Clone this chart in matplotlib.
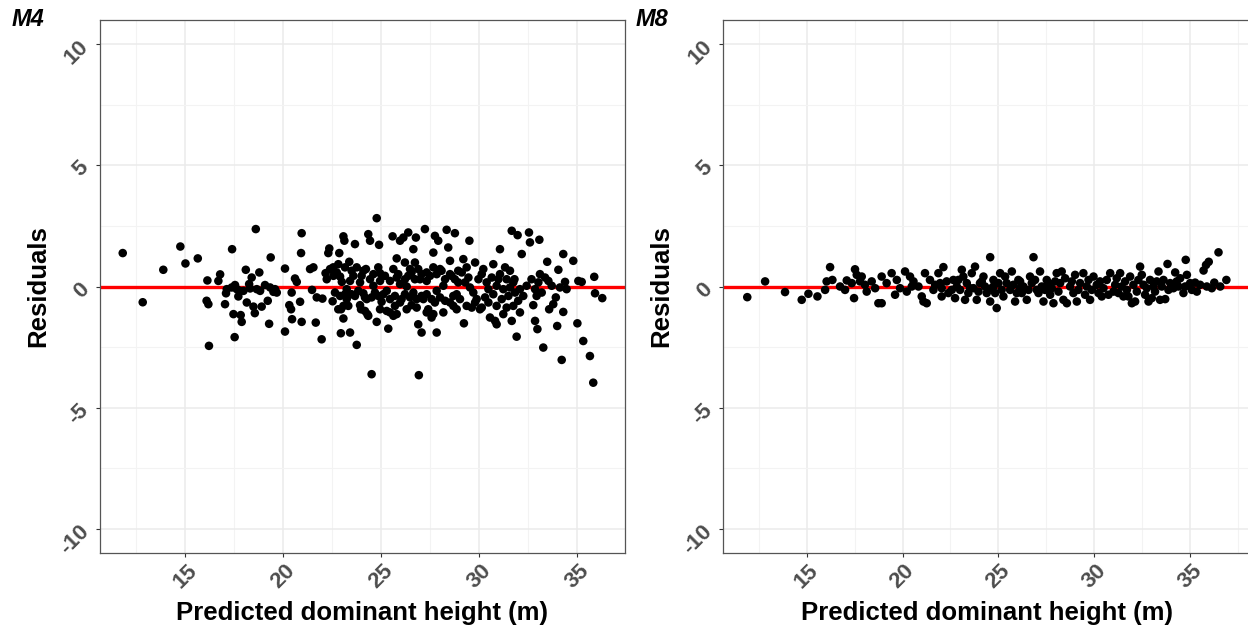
import numpy as np
import matplotlib.pyplot as plt
from matplotlib.ticker import MultipleLocator

plt.rcParams['font.family'] = ['Liberation Sans', 'DejaVu Sans']
plt.rcParams['axes.unicode_minus'] = False

# ---- M4 residuals ----
m4_x = [11.82, 12.84, 13.89, 14.76, 15.02, 15.65, 16.14, 16.10, 16.19, 16.22,
        16.70, 16.79, 17.04, 17.09, 17.40, 17.47, 17.53, 17.55, 17.64, 17.72,
        17.84, 17.89, 17.98, 18.10, 18.15, 18.27, 18.40, 18.49, 18.56, 18.61,
        18.66, 18.79, 18.91, 19.22, 19.29, 19.37, 19.34, 19.51, 19.68,
        17.13, 17.38, 17.81, 18.32, 18.83, 19.08, 19.59,
        20.10, 20.10, 20.61, 20.70, 20.44, 20.32, 20.41, 20.46, 20.95, 20.92,
        20.87, 20.95, 21.38, 21.55, 21.48, 21.72, 21.67, 22.01, 21.97, 22.17,
        22.23, 22.36, 22.31, 22.53, 22.56, 22.74, 22.87, 22.91, 23.00, 22.96,
        23.08, 23.13, 22.95, 23.08, 23.16, 23.25, 23.38, 23.33, 23.42, 23.50,
        23.59, 23.67, 23.67, 23.76, 23.93, 23.98, 24.10, 24.18, 24.35, 24.44,
        24.30, 24.35, 24.52, 24.61, 24.69, 24.78, 24.78, 24.90, 24.86, 24.95,
        25.03, 25.29, 25.37, 25.46, 25.59, 25.63, 25.80, 25.88, 25.97, 26.05,
        26.14, 26.22, 26.31, 26.39, 26.48, 26.56, 26.65, 26.73, 26.78, 26.90,
        26.93, 26.99, 27.07, 27.16, 27.24, 27.33, 27.41, 27.58, 27.67, 27.75,
        27.84, 27.92, 27.84, 28.01, 28.18, 28.35, 28.43, 28.52, 28.60, 28.77,
        28.69, 28.86, 28.94,
        22.40, 22.57, 22.82, 23.16, 23.42, 23.76, 24.01, 24.23, 24.44, 24.61,
        24.95, 25.20, 25.46, 25.63, 25.80, 25.97, 26.22, 26.39, 26.56, 26.73,
        26.90, 27.07, 27.33, 27.50, 27.67, 27.84, 28.09, 28.27, 28.52, 28.77,
        28.94,
        22.65, 22.91, 23.25, 23.50, 23.84, 24.10, 24.27, 24.52, 24.86, 25.12,
        25.46, 25.71, 25.97, 26.22, 26.48, 26.65, 26.82, 27.07, 27.33, 27.58,
        27.75, 28.01, 28.27, 28.52, 28.69, 28.86,
        22.82, 23.08, 23.93, 24.18, 24.95, 25.29, 25.71, 25.80, 26.31, 26.82,
        27.33, 27.67, 28.18,
        29.51, 29.20, 29.23, 29.37, 29.80, 29.71, 29.88, 29.63, 30.05, 30.22,
        30.31, 30.56, 30.73, 30.82, 30.90, 31.07, 30.99, 31.16, 31.24, 31.33,
        31.58, 31.50, 31.67, 31.67, 31.81, 31.92, 31.97, 32.00, 32.09, 32.18,
        32.09, 32.55, 32.60, 32.68, 32.77, 32.86, 32.98, 33.08, 33.11, 33.28,
        33.48, 33.54, 33.58, 33.79, 33.92, 33.99, 34.05, 34.22, 34.30, 34.30,
        34.47, 34.81, 35.02, 35.07, 35.24, 35.32, 35.66, 35.83, 35.88, 35.92,
        36.29,
        29.12, 29.29, 29.46, 29.54, 29.97, 30.14, 30.39, 30.48, 30.65, 30.73,
        30.90, 31.07, 31.24, 31.41, 31.58, 31.75, 31.84, 32.43, 32.86, 33.03,
        33.37, 33.20, 33.71, 34.13, 34.39, 29.03, 29.37, 29.80, 30.14, 30.48,
        30.90, 31.41, 31.75, 32.26, 32.94]
m4_y = [1.38, -0.65, 0.69, 1.65, 0.95, 1.16, 0.25, -0.59, -0.73, -2.45,
        0.23, 0.50, -0.73, -0.28, 1.54, -1.14, -2.09, 0.06, -0.11, -0.41,
        -1.18, -1.46, -0.18, 0.69, -0.66, 0.10, 0.37, -0.83, -1.10, 2.37,
        -0.11, 0.58, -0.83, -0.59, -1.54, 1.20, -0.04, -0.22, -0.25,
        -0.11, -0.04, -0.18, -0.08, -0.18, 0.06, -0.11,
        0.74, -1.86, 0.33, 0.19, -0.25, -0.77, -0.94, -1.35, 2.20, 1.38,
        -0.63, -1.46, 0.72, 0.79, -0.14, -0.45, -1.49, -0.50, -2.18, 0.55,
        0.30, 1.57, 1.38, -0.61, 0.79, 0.58, 1.38, 0.41, 0.19, -0.94,
        2.07, 1.89, -1.93, -1.32, -0.32, -0.11, 1.02, -0.80, -1.90, 0.65,
        0.44, 1.75, -0.39, -2.41, 0.17, -0.94, 0.65, -0.45, 2.16, 1.89,
        -1.14, -1.21, -3.62, 0.51, -0.25, 2.82, -1.46, 1.72, 0.79, 0.23,
        -0.63, -0.18, -1.74, -1.07, 2.07, -1.21, 1.16, 0.51, 1.89, -0.52,
        2.02, 0.99, 0.00, 2.23, 0.72, -0.77, 1.54, 0.99, 2.02, -1.56,
        -3.66, 0.30, -1.90, -0.52, 2.37, 0.58, -0.94, -1.28, 1.40, 2.09,
        -1.90, 1.89, -0.18, 0.72, 0.03, 2.34, 1.61, 1.06, 0.44, 2.20,
        -0.39, -0.94, 0.17,
        0.72, 0.44, 0.92, 0.79, 0.23, 0.79, 0.44, 0.72, 0.30, 0.03,
        0.55, 0.44, 0.23, 0.72, 0.37, 0.10, 0.30, 0.44, 0.58, 0.30,
        0.72, 0.51, 0.23, 0.44, 0.79, 0.51, 0.65, 0.30, 0.51, 0.30,
        0.65,
        -0.25, -0.39, -0.52, -0.32, -0.18, -0.28, -0.52, -0.45, -0.39, -0.32,
        -0.52, -0.39, -0.66, -0.32, -0.45, -0.25, -0.52, -0.39, -0.32, -0.52,
        -0.66, -0.45, -0.59, -0.66, -0.80, -0.32,
        -0.94, -0.80, -0.77, -1.01, -0.94, -1.01, -0.80, -1.14, -0.94, -0.87,
        -1.07, -1.14, -1.07,
        1.89, 1.13, -1.52, 0.79, 0.99, -0.25, -0.52, -0.87, -0.94, 0.72,
        -0.45, -1.28, 0.92, -1.42, -1.56, 1.54, 0.30, -0.52, -1.14, 0.79,
        0.65, -0.39, 2.30, -1.42, 0.30, -2.07, 2.12, -0.59, -1.07, 1.34,
        -0.11, 2.23, 1.82, 0.30, -0.77, -1.42, -1.76, 1.93, 0.51, -2.52,
        1.02, 0.23, -0.94, -0.73, -0.45, -1.63, 0.69, -3.03, 1.34, -1.05,
        -0.11, 1.06, -1.52, 0.23, 0.19, -2.25, -2.87, -3.97, 0.40, -0.28,
        -0.48,
        0.58, 0.17, 0.37, -0.04, 0.30, 0.51, 0.17, -0.11, 0.37, -0.32,
        0.03, 0.51, -0.11, 0.30, -0.04, 0.17, -0.25, 0.03, -0.11, 0.17,
        0.37, -0.25, 0.03, -0.04, 0.19, -0.52, -0.80, -0.66, -0.87, -0.66,
        -0.80, -0.87, -0.80, -0.39, -0.39]

# ---- M8 residuals ----
m8_x = [11.90, 12.83, 13.87, 14.74, 15.09, 15.56, 15.96, 16.04, 16.22, 16.34,
        16.74, 17.00, 17.09, 17.47, 17.52, 17.61, 17.78, 18.04, 18.13, 18.39,
        18.74, 18.57, 17.87, 17.35,
        18.91, 18.91, 19.43, 19.61, 20.13, 20.22, 20.39, 20.57, 20.83, 21.00,
        21.09, 21.17, 21.26, 21.70, 21.87, 22.04, 22.13, 22.30, 22.57, 22.74,
        22.91, 23.09, 23.17, 23.26, 23.43, 23.61, 23.78, 23.87, 24.04, 24.22,
        24.39, 24.57, 24.57, 24.74, 24.91, 25.09, 25.26, 25.43, 25.70, 25.87,
        26.04, 26.22, 26.48, 26.65, 26.83, 27.00, 27.17, 27.35, 27.52, 27.70,
        27.87, 28.04,
        19.17, 19.70, 19.87, 20.48, 21.43, 21.61, 21.96, 22.39, 22.65, 23.00,
        23.35, 23.52, 23.96, 24.13, 24.30, 24.65, 24.83, 25.00, 25.17, 25.35,
        25.61, 25.78, 25.96, 26.13, 26.30, 26.57, 26.74, 26.91, 27.09, 27.26,
        27.43, 27.61, 27.78, 27.96, 28.13, 22.04, 22.83, 23.70, 24.74, 26.13,
        27.52,
        28.30, 28.39, 28.57, 29.00, 29.09, 29.43, 29.78, 29.96, 30.30, 30.83,
        31.00, 31.35, 31.52, 31.96, 32.13, 32.39, 32.48, 32.65, 32.83, 33.00,
        33.35, 33.43, 33.70, 33.82, 34.22, 34.30, 34.65, 34.77, 34.83, 35.35,
        35.26, 35.70, 35.83, 35.97, 36.26, 36.48, 36.57, 36.89,
        28.22, 28.48, 28.74, 28.83, 29.17, 29.26, 29.61, 29.70, 29.87, 30.13,
        30.22, 30.48, 30.65, 30.74, 31.09, 31.17, 31.43, 31.61, 31.70, 31.87,
        32.04, 32.22, 32.30, 32.57, 32.74, 32.91, 33.09, 33.17, 33.26, 33.52,
        33.61, 33.87, 33.96, 34.13, 34.39, 34.48, 34.74, 35.00, 35.09, 35.52,
        35.87, 36.13, 28.91, 29.52, 30.39, 31.26, 31.78]
m8_y = [-0.44, 0.21, -0.23, -0.55, -0.30, -0.41, -0.14, 0.21, 0.80, 0.27,
        0.00, -0.14, 0.25, -0.48, 0.71, 0.48, 0.21, 0.07, -0.21, 0.21,
        -0.69, -0.07, 0.41, 0.14,
        0.41, -0.69, 0.55, -0.34, 0.62, -0.21, 0.41, 0.21, 0.00, -0.41,
        -0.62, 0.55, -0.69, 0.07, 0.55, -0.41, 0.80, 0.21, -0.14, -0.48,
        0.27, 0.69, 0.41, -0.55, -0.27, 0.55, 0.82, -0.55, 0.14, 0.41,
        -0.27, 1.21, -0.62, 0.27, -0.89, 0.55, -0.41, 0.14, 0.62, -0.62,
        0.27, -0.27, -0.55, 0.41, 1.21, -0.14, 0.62, -0.62, 0.27, -0.34,
        -0.69, 0.55,
        0.14, 0.27, -0.07, 0.00, 0.27, -0.14, 0.14, -0.27, 0.27, -0.14,
        0.14, -0.07, -0.21, 0.21, 0.00, -0.07, -0.27, 0.14, -0.14, 0.41,
        -0.14, 0.07, -0.27, 0.21, 0.00, -0.14, 0.14, 0.27, -0.27, 0.00,
        -0.14, 0.14, -0.07, 0.21, -0.21, -0.07, 0.00, -0.07, 0.00, -0.07,
        0.00,
        0.62, -0.55, -0.69, 0.48, -0.62, 0.55, -0.55, 0.41, 0.21, 0.55,
        -0.21, 0.55, -0.41, -0.69, -0.62, 0.82, 0.48, -0.34, -0.62, -0.48,
        0.62, -0.55, -0.52, 0.93, 0.58, 0.21, -0.27, 1.10, 0.48, -0.21,
        0.16, 0.66, 0.89, 1.02, 0.16, 1.41, 0.00, 0.27,
        0.14, 0.34, 0.00, 0.21, -0.14, 0.14, 0.00, 0.27, -0.14, 0.07,
        -0.27, -0.07, 0.27, -0.34, 0.07, 0.34, 0.00, 0.21, -0.14, 0.41,
        0.07, -0.21, 0.27, 0.07, -0.07, 0.27, 0.00, -0.21, 0.21, 0.00,
        0.27, -0.14, 0.14, -0.07, 0.00, 0.34, 0.00, 0.14, -0.14, 0.07,
        0.00, -0.07, -0.27, -0.34, -0.41, -0.27, -0.41]

panels = [("M4", m4_x, m4_y, (10.66, 37.45)),
          ("M8", m8_x, m8_y, (10.65, 38.18))]

W, H = 1248, 630
fig = plt.figure(figsize=(W / 100, H / 100), dpi=100)
boxes = [(100, 20, 525, 533), (723.3, 20, 527.8, 533)]
tick_col = '#4d4d4d'

for (name, xs, ys, xl), (bx, by, bw, bh) in zip(panels, boxes):
    ax = fig.add_axes([bx / W, 1 - (by + bh) / H, bw / W, bh / H])
    ax.set_xlim(xl)
    ax.set_ylim(-11, 11)
    ax.xaxis.set_major_locator(MultipleLocator(5))
    ax.xaxis.set_minor_locator(MultipleLocator(2.5))
    ax.yaxis.set_major_locator(MultipleLocator(5))
    ax.yaxis.set_minor_locator(MultipleLocator(2.5))
    ax.grid(True, which='major', color='#ebebeb', lw=1.1, zorder=0)
    ax.grid(True, which='minor', color='#f3f3f3', lw=0.8, zorder=0)
    ax.set_axisbelow(True)
    ax.axhline(0, color='#ff0000', lw=2.4, zorder=2)
    ax.scatter(xs, ys, s=38, color='black', edgecolors='none', zorder=3)
    ax.tick_params(which='minor', length=0)
    ax.tick_params(which='major', length=3, width=0.8, color='#333333',
                   labelcolor=tick_col, labelsize=16, pad=2)
    for lab in ax.get_xticklabels():
        lab.set_rotation(45)
        lab.set_fontweight('bold')
        lab.set_ha('center')
    for lab in ax.get_yticklabels():
        lab.set_rotation(45)
        lab.set_fontweight('bold')
    for sp in ax.spines.values():
        sp.set_color('#555555')
        sp.set_linewidth(0.9)
    ax.set_xlabel('Predicted dominant height (m)', fontsize=18.5,
                  fontweight='bold', labelpad=6)
    ax.set_ylabel('Residuals', fontsize=18.5, fontweight='bold', labelpad=4)
    fig.text((bx - 88) / W, 1 - 8 / H, name, fontsize=17, fontweight='bold',
             fontstyle='italic', ha='left', va='top')

fig.savefig('out.png', dpi=100)
